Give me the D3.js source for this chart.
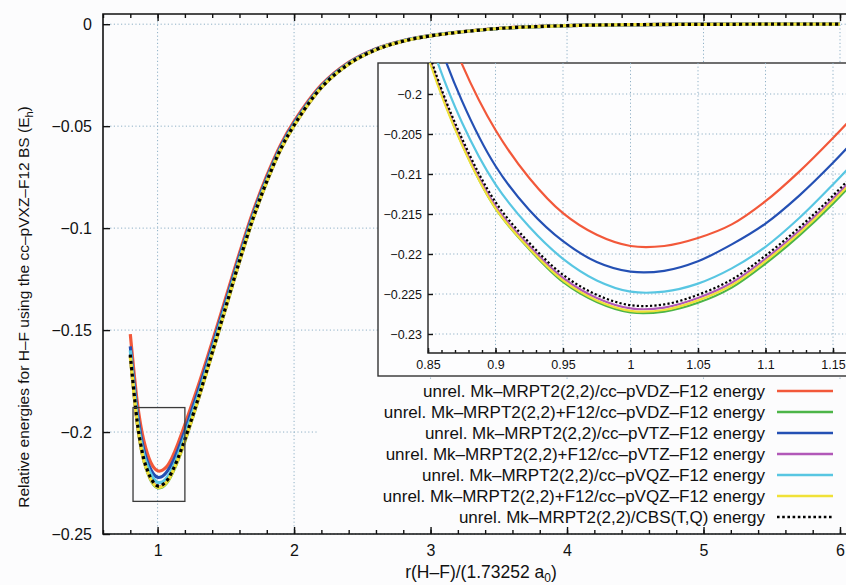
<!DOCTYPE html>
<html>
<head>
<meta charset="utf-8">
<script src="https://cdn.jsdelivr.net/npm/d3@7"></script>
<style>
    body { margin: 0; background: #fcfcfd; }
    svg { display: block; font-family: "Liberation Sans", Arial, sans-serif; }
    .grid line { stroke: #8fb0c6; stroke-width: 1; stroke-dasharray: 1.2,2.4; }
    .axis line { stroke: #111; stroke-width: 1.4; }
    .axis text { fill: #111; }
</style>
</head>
<body>
<script>
(function () {
    'use strict';

    // bond distances, r(H-F)/(1.73252 a0)
    var rVals = [0.8, 0.85, 0.875, 0.9, 0.925, 0.95, 0.975, 1.0, 1.025, 1.05, 1.075, 1.1,
        1.125, 1.15, 1.175, 1.2, 1.3, 1.4, 1.5, 1.6, 1.7, 1.8, 1.9, 2.0, 2.2, 2.4, 2.6,
        2.8, 3.0, 3.5, 4.0, 4.5, 5.0, 5.5, 6.0];

    // relative energies (Eh), one list per series
    var vdz = [-0.152, -0.1848, -0.1962, -0.2045, -0.2105, -0.2149, -0.2176, -0.2190, -0.2190,
        -0.2180, -0.2163, -0.2134, -0.2097, -0.2055, -0.2010, -0.1963, -0.1768, -0.1558,
        -0.1340, -0.1122, -0.0918, -0.0743, -0.0593, -0.0477, -0.0298, -0.0187, -0.0120,
        -0.0080, -0.0055, -0.0020, -0.0007, -0.0002, -0.0001, 0, 0];
    var vdzF12 = [-0.1625, -0.1950, -0.2062, -0.2143, -0.2194, -0.2235, -0.2260, -0.2273, -0.2272,
        -0.2261, -0.2242, -0.2212, -0.2177, -0.2137, -0.2092, -0.2045, -0.1837, -0.1616,
        -0.1391, -0.1165, -0.0954, -0.0773, -0.0617, -0.0497, -0.0311, -0.0196, -0.0125,
        -0.0083, -0.0057, -0.0021, -0.0007, -0.0002, -0.0001, 0, 0];
    var vtz = [-0.158, -0.1895, -0.2008, -0.2090, -0.2145, -0.2184, -0.2210, -0.2222, -0.2221,
        -0.2209, -0.2188, -0.2162, -0.2127, -0.2086, -0.2041, -0.1994, -0.1794, -0.1580,
        -0.1359, -0.1138, -0.0932, -0.0755, -0.0603, -0.0485, -0.0303, -0.0191, -0.0122,
        -0.0081, -0.0056, -0.0021, -0.0007, -0.0002, -0.0001, 0, 0];
    var vtzF12 = [-0.1625, -0.1950, -0.2060, -0.2140, -0.2190, -0.2230, -0.2255, -0.2268, -0.2267,
        -0.2255, -0.2236, -0.2206, -0.2171, -0.2131, -0.2087, -0.2040, -0.1834, -0.1613,
        -0.1388, -0.1163, -0.0952, -0.0772, -0.0616, -0.0496, -0.0311, -0.0195, -0.0125,
        -0.0083, -0.0057, -0.0021, -0.0007, -0.0002, -0.0001, 0, 0];
    var vqz = [-0.160, -0.1925, -0.2035, -0.2113, -0.2166, -0.2206, -0.2233, -0.2247, -0.2247,
        -0.2237, -0.2218, -0.2191, -0.2155, -0.2113, -0.2068, -0.2020, -0.1816, -0.1598,
        -0.1375, -0.1151, -0.0943, -0.0764, -0.0610, -0.0491, -0.0307, -0.0193, -0.0124,
        -0.0082, -0.0056, -0.0021, -0.0007, -0.0002, -0.0001, 0, 0];
    var vqzF12 = [-0.163, -0.1953, -0.2063, -0.2143, -0.2193, -0.2233, -0.2258, -0.2271, -0.2270,
        -0.2258, -0.2239, -0.2209, -0.2174, -0.2134, -0.2090, -0.2043, -0.1836, -0.1615,
        -0.1390, -0.1164, -0.0953, -0.0772, -0.0617, -0.0497, -0.0311, -0.0196, -0.0125,
        -0.0083, -0.0057, -0.0021, -0.0007, -0.0002, -0.0001, 0, 0];
    var cbs = [-0.162, -0.1945, -0.2055, -0.2135, -0.2186, -0.2226, -0.2251, -0.2264, -0.2263,
        -0.2251, -0.2232, -0.2202, -0.2167, -0.2127, -0.2083, -0.2036, -0.1830, -0.1610,
        -0.1385, -0.1160, -0.0950, -0.0770, -0.0615, -0.0495, -0.0310, -0.0195, -0.0125,
        -0.0083, -0.0057, -0.0021, -0.0007, -0.0002, -0.0001, 0, 0];

    var seriesNames = [
        'unrel. Mk–MRPT2(2,2)/cc–pVDZ–F12 energy',
        'unrel. Mk–MRPT2(2,2)+F12/cc–pVDZ–F12 energy',
        'unrel. Mk–MRPT2(2,2)/cc–pVTZ–F12 energy',
        'unrel. Mk–MRPT2(2,2)+F12/cc–pVTZ–F12 energy',
        'unrel. Mk–MRPT2(2,2)/cc–pVQZ–F12 energy',
        'unrel. Mk–MRPT2(2,2)+F12/cc–pVQZ–F12 energy',
        'unrel. Mk–MRPT2(2,2)/CBS(T,Q) energy'
    ];
    var seriesValues = [vdz, vdzF12, vtz, vtzF12, vqz, vqzF12, cbs];
    var seriesColors = ['#f2583a', '#4cb548', '#2450b4', '#b158b8', '#58c6e2', '#f0e138', '#000'];

    // tick values and labels
    var xTicks = [1, 2, 3, 4, 5, 6];
    var xTickLabels = ['1', '2', '3', '4', '5', '6'];
    var xMinorTicks = d3.range(0.6, 6.01, 0.2);
    var yTicks = [0, -0.05, -0.1, -0.15, -0.2, -0.25];
    var yTickLabels = ['0', '−0.05', '−0.1', '−0.15', '−0.2', '−0.25'];
    var inXTicks = [0.85, 0.9, 0.95, 1, 1.05, 1.1, 1.15];
    var inXTickLabels = ['0.85', '0.9', '0.95', '1', '1.05', '1.1', '1.15'];
    var inXMinorTicks = d3.range(0.85, 1.161, 0.01);
    var inYTicks = [-0.2, -0.205, -0.21, -0.215, -0.22, -0.225, -0.23];
    var inYTickLabels = ['−0.2', '−0.205', '−0.21', '−0.215', '−0.22', '−0.225', '−0.23'];

    // zoom window marked on the main plot
    var boxX = [0.82, 1.2],
        boxY = [-0.234, -0.188];

    var W = 846, H = 585;
    var plot = { l: 103, t: 14, r: 846, b: 534 };
    var inset = { l: 378, t: 63, b: 376, pl: 428, pb: 353, r: 870 };

    var svg = d3.select('body').append('svg')
        .attr('width', W)
        .attr('height', H);

    var x = d3.scaleLinear().domain([0.6, 6]).range([plot.l, 840]);
    var y = d3.scaleLinear().domain([-0.25, 0.005]).range([plot.b, plot.t]);

    var xi = d3.scaleLinear().domain([0.85, 1.15]).range([inset.pl, 833]);
    var yi = d3.scaleLinear().domain([-0.23, -0.2]).range([334, 94]);

    function tickLabel(ticks, labels) {
        return function (d) {
            var i = ticks.findIndex(function (t) { return Math.abs(t - d) < 1e-9; });
            return i < 0 ? '' : labels[i];
        };
    }

    // drop the axis line and d3's own font settings
    function plain(g) {
        g.select('.domain').remove();
        g.attr('font-size', null).attr('font-family', null);
    }

    function seriesData(vals) {
        return rVals.map(function (r, i) { return [r, vals[i]]; });
    }

    // draws the curves into g with the given scales
    function drawCurves(g, sx, sy, w) {
        var line = d3.line()
            .x(function (d) { return sx(d[0]); })
            .y(function (d) { return sy(d[1]); })
            .curve(d3.curveCatmullRom.alpha(0.5));

        seriesValues.forEach(function (vals, i) {
            var p = g.append('path')
                .datum(seriesData(vals))
                .attr('fill', 'none')
                .attr('stroke', seriesColors[i])
                .attr('stroke-width', w)
                .attr('d', line);
            if (i === seriesValues.length - 1) {
                p.attr('stroke-dasharray', w + ',' + w);
            }
        });
    }

    var defs = svg.append('defs');
    defs.append('clipPath').attr('id', 'clipMain')
        .append('rect')
        .attr('x', plot.l).attr('y', plot.t)
        .attr('width', plot.r - plot.l).attr('height', plot.b - plot.t);
    defs.append('clipPath').attr('id', 'clipInset')
        .append('rect')
        .attr('x', inset.pl).attr('y', inset.t)
        .attr('width', W - inset.pl).attr('height', inset.pb - inset.t);

    // ---- main plot ----
    var grid = svg.append('g').attr('class', 'grid');
    grid.selectAll('.gx').data(xTicks).enter().append('line')
        .attr('x1', x).attr('x2', x)
        .attr('y1', plot.t).attr('y2', plot.b);
    grid.selectAll('.gy').data(yTicks).enter().append('line')
        .attr('x1', plot.l).attr('x2', plot.r)
        .attr('y1', y).attr('y2', y);

    var main = svg.append('g').attr('clip-path', 'url(#clipMain)');
    drawCurves(main, x, y, 3.2);

    svg.append('rect')
        .attr('x', x(boxX[0]))
        .attr('y', y(boxY[1]))
        .attr('width', x(boxX[1]) - x(boxX[0]))
        .attr('height', y(boxY[0]) - y(boxY[1]))
        .attr('fill', 'none')
        .attr('stroke', '#3a3a3a')
        .attr('stroke-width', 1.3);

    // legend panel hides the grid behind it
    var legend = svg.append('g');
    legend.append('rect')
        .attr('x', 319).attr('y', 379)
        .attr('width', W - 319).attr('height', 150)
        .attr('fill', '#fcfcfd');

    seriesNames.forEach(function (name, i) {
        var ly = 391 + i * 21;
        legend.append('text')
            .attr('x', 765).attr('y', ly)
            .attr('dy', '0.35em')
            .attr('text-anchor', 'end')
            .attr('font-size', 17)
            .attr('fill', '#111')
            .text(name);
        var ln = legend.append('line')
            .attr('x1', 777).attr('x2', 833)
            .attr('y1', ly).attr('y2', ly)
            .attr('stroke', seriesColors[i])
            .attr('stroke-width', 2.6);
        if (i === seriesNames.length - 1) {
            ln.attr('stroke-dasharray', '2.6,2.6');
        }
    });

    // axes
    var ax = svg.append('g').attr('class', 'axis').attr('font-size', 16);

    ax.append('g')
        .attr('transform', 'translate(0,' + plot.b + ')')
        .call(d3.axisBottom(x).tickValues(xMinorTicks).tickSize(-4).tickFormat(''))
        .call(plain);
    ax.append('g')
        .attr('transform', 'translate(0,' + plot.b + ')')
        .call(d3.axisBottom(x).tickValues(xTicks).tickSize(-7).tickPadding(11)
            .tickFormat(tickLabel(xTicks, xTickLabels)))
        .call(plain);
    ax.append('g')
        .attr('transform', 'translate(0,' + plot.t + ')')
        .call(d3.axisTop(x).tickValues(xMinorTicks).tickSize(-4).tickFormat(''))
        .call(plain);
    ax.append('g')
        .attr('transform', 'translate(0,' + plot.t + ')')
        .call(d3.axisTop(x).tickValues(xTicks).tickSize(-7).tickFormat(''))
        .call(plain);
    ax.append('g')
        .attr('transform', 'translate(' + plot.l + ',0)')
        .call(d3.axisLeft(y).tickValues(yTicks).tickSize(-7).tickPadding(11)
            .tickFormat(tickLabel(yTicks, yTickLabels)))
        .call(plain);

    // frame
    svg.append('path')
        .attr('d', 'M' + plot.r + ',' + plot.t + 'H' + plot.l + 'V' + plot.b + 'H' + plot.r)
        .attr('fill', 'none')
        .attr('stroke', '#111')
        .attr('stroke-width', 1.6);

    // ---- inset ----
    var ins = svg.append('g');
    ins.append('rect')
        .attr('x', inset.l).attr('y', inset.t)
        .attr('width', inset.r - inset.l).attr('height', inset.b - inset.t)
        .attr('fill', '#fdfdfe')
        .attr('stroke', '#333')
        .attr('stroke-width', 1.4);

    var igrid = ins.append('g').attr('class', 'grid');
    igrid.selectAll('.gx').data(inXTicks.slice(1)).enter().append('line')
        .attr('x1', xi).attr('x2', xi)
        .attr('y1', inset.t).attr('y2', inset.pb);
    igrid.selectAll('.gy').data(inYTicks).enter().append('line')
        .attr('x1', inset.pl).attr('x2', inset.r)
        .attr('y1', yi).attr('y2', yi);

    var inCurves = ins.append('g').attr('clip-path', 'url(#clipInset)');
    drawCurves(inCurves, xi, yi, 2.2);

    var iax = ins.append('g').attr('class', 'axis').attr('font-size', 12.5);
    iax.append('g')
        .attr('transform', 'translate(0,' + inset.pb + ')')
        .call(d3.axisBottom(xi).tickValues(inXMinorTicks).tickSize(-3).tickFormat(''))
        .call(plain);
    iax.append('g')
        .attr('transform', 'translate(0,' + inset.pb + ')')
        .call(d3.axisBottom(xi).tickValues(inXTicks).tickSize(-5).tickPadding(7)
            .tickFormat(tickLabel(inXTicks, inXTickLabels)))
        .call(plain);
    iax.append('g')
        .attr('transform', 'translate(' + inset.pl + ',0)')
        .call(d3.axisLeft(yi).tickValues(inYTicks).tickSize(-5).tickPadding(6)
            .tickFormat(tickLabel(inYTicks, inYTickLabels)))
        .call(plain);
    iax.selectAll('line').attr('stroke-width', 1.2);

    ins.append('path')
        .attr('d', 'M' + inset.pl + ',' + inset.t + 'V' + inset.pb + 'H' + inset.r)
        .attr('fill', 'none')
        .attr('stroke', '#222')
        .attr('stroke-width', 1.4);

    // ---- axis titles ----
    var xt = svg.append('text')
        .attr('x', 481).attr('y', 578)
        .attr('text-anchor', 'middle')
        .attr('font-size', 17.5)
        .attr('fill', '#111');
    xt.append('tspan').text('r(H–F)/(1.73252 a');
    xt.append('tspan').attr('font-size', 12).attr('dy', 4).text('0');
    xt.append('tspan').attr('dy', -4).text(')');

    var yt = svg.append('text')
        .attr('transform', 'translate(29,307) rotate(-90)')
        .attr('text-anchor', 'middle')
        .attr('font-size', 15.5)
        .attr('fill', '#111');
    yt.append('tspan').text('Relative energies for H–F using the cc–pVXZ–F12 BS (E');
    yt.append('tspan').attr('font-size', 11).attr('dy', 4).text('h');
    yt.append('tspan').attr('dy', -4).text(')');
}());
</script>
</body>
</html>
